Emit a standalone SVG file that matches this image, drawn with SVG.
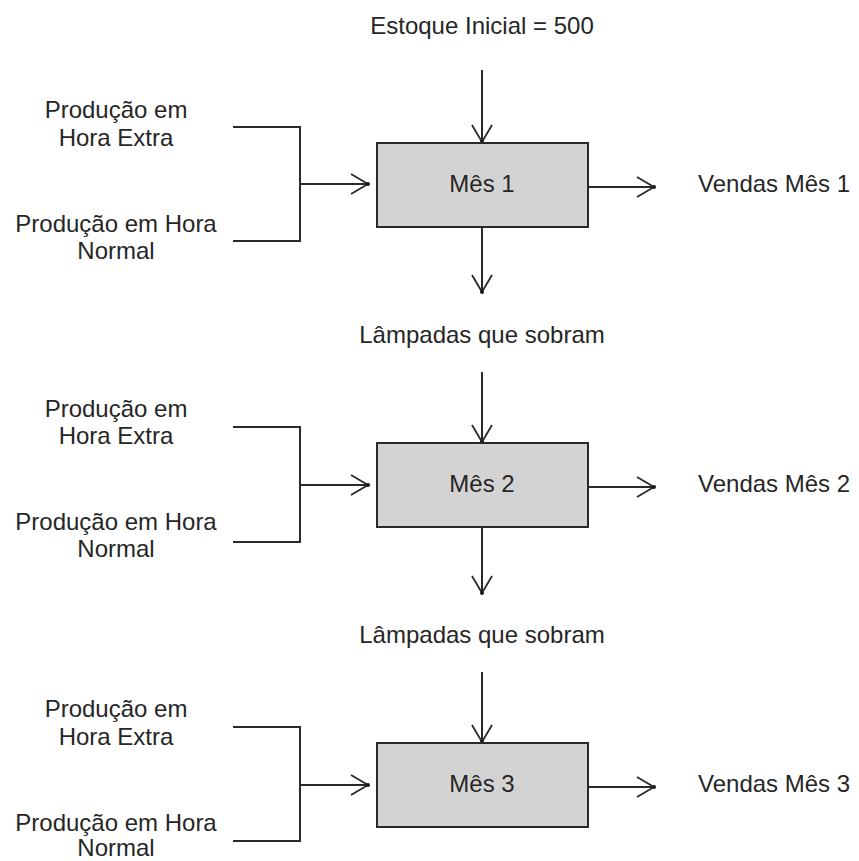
<svg xmlns="http://www.w3.org/2000/svg" width="859" height="861" viewBox="0 0 859 861">
  <defs>
    <style>
      text { font-family: "Liberation Sans", Arial, sans-serif; font-size: 24px; fill: #262626; }
      .mid { text-anchor: middle; }
      .box rect { fill: #d3d3d3; stroke: #2a2a2a; stroke-width: 2; }
      .flow { fill: none; stroke: #2a2a2a; stroke-width: 2; }
      .arrow { marker-end: url(#head); }
    </style>
    <marker id="head" markerUnits="userSpaceOnUse" viewBox="-20 -12 24 24" refX="0" refY="0" markerWidth="24" markerHeight="24" orient="auto" overflow="visible">
      <path d="M-17,-10 L0,0 L-17,10" fill="none" stroke="#2a2a2a" stroke-width="1.8"/>
      <circle cx="0" cy="0" r="2" fill="#1a1a1a"/>
    </marker>
  </defs>

  <rect width="859" height="861" fill="#ffffff"/>

  <!-- Connectors -->
  <g id="connectors" class="flow">
    <!-- month 1 -->
    <path class="arrow" d="M482,70 V142"/>
    <path d="M233,127 H300 V241 H233"/>
    <path class="arrow" d="M300,184 H368"/>
    <path class="arrow" d="M588,187 H654"/>
    <path class="arrow" d="M482,227 V292"/>
    <!-- month 2 -->
    <path class="arrow" d="M482,372 V442"/>
    <path d="M233,427 H300 V542 H233"/>
    <path class="arrow" d="M300,485 H368"/>
    <path class="arrow" d="M588,487 H654"/>
    <path class="arrow" d="M482,527 V593"/>
    <!-- month 3 -->
    <path class="arrow" d="M482,672 V742"/>
    <path d="M233,727 H300 V841 H233"/>
    <path class="arrow" d="M300,785 H368"/>
    <path class="arrow" d="M588,787 H654"/>
  </g>

  <!-- Flow labels -->
  <g id="label-estoque"><text class="mid" x="482" y="34">Estoque Inicial = 500</text></g>
  <g id="label-sobra-1"><text class="mid" x="482" y="343">Lâmpadas que sobram</text></g>
  <g id="label-sobra-2"><text class="mid" x="482" y="643">Lâmpadas que sobram</text></g>

  <!-- Month 1 -->
  <g id="mes-1" class="box">
    <rect x="377" y="143" width="211" height="84"/>
    <text class="mid" x="482" y="192">Mês 1</text>
  </g>
  <g id="extra-1"><text class="mid" x="116" y="118">Produção em</text><text class="mid" x="116" y="146">Hora Extra</text></g>
  <g id="normal-1"><text class="mid" x="116" y="232">Produção em Hora</text><text class="mid" x="116" y="259">Normal</text></g>
  <g id="vendas-1"><text x="698" y="192">Vendas Mês 1</text></g>

  <!-- Month 2 -->
  <g id="mes-2" class="box">
    <rect x="377" y="443" width="211" height="84"/>
    <text class="mid" x="482" y="492">Mês 2</text>
  </g>
  <g id="extra-2"><text class="mid" x="116" y="417">Produção em</text><text class="mid" x="116" y="444">Hora Extra</text></g>
  <g id="normal-2"><text class="mid" x="116" y="530">Produção em Hora</text><text class="mid" x="116" y="557">Normal</text></g>
  <g id="vendas-2"><text x="698" y="492">Vendas Mês 2</text></g>

  <!-- Month 3 -->
  <g id="mes-3" class="box">
    <rect x="377" y="743" width="211" height="84"/>
    <text class="mid" x="482" y="792">Mês 3</text>
  </g>
  <g id="extra-3"><text class="mid" x="116" y="717">Produção em</text><text class="mid" x="116" y="745">Hora Extra</text></g>
  <g id="normal-3"><text class="mid" x="116" y="831">Produção em Hora</text><text class="mid" x="116" y="856">Normal</text></g>
  <g id="vendas-3"><text x="698" y="792">Vendas Mês 3</text></g>
</svg>
